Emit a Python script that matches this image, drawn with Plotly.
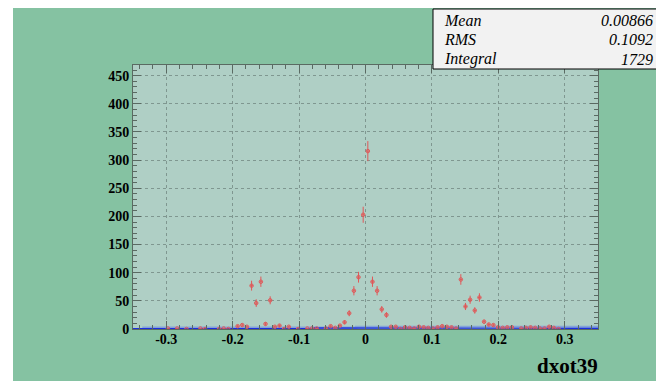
import math
import plotly.graph_objects as go

# ---------------- data ----------------
n_bins = 100
x_min, x_max = -0.35, 0.35
bin_width = (x_max - x_min) / n_bins
bin_edges = [x_min + bin_width * i for i in range(n_bins + 1)]
bin_centers = [x_min + bin_width * (i + 0.5) for i in range(n_bins)]

# red histogram (None = empty bin, not drawn)
red_counts = (
    [None] * 7 + [1, None, 1, None, 0, None, None, 1, 0, None, None, 0, 1, 0, None,
                  5, 7, 4, 77, 46, 84, 9, 51, 4, 6, 0, 4, None, 0, None, 1, 1, 1, None, 1,
                  5, 2, 6, 12, 28, 68, 92, 203, 316, 84, 68, 35, 25, 4, 4, 0, 3, 2, 1,
                  4, 3, 2, 1, 3, 5, 4, 3, 1, 88, 40, 52, 33, 56, 13, 8, 7, 3, 2, 3, 3,
                  None, 1, 2, 3, 2, 1, 1, 4, 2, 0] + [None] * 8
)

# blue histograms (low background)
blue_line = [0.5] * 39 + [2.0] * 9 + [1.0] * 52
blue_band = [None] * 2 + [2.0] * 46 + [3.5] * 52

x_tick_vals = [-0.3, -0.2, -0.1, 0.0, 0.1, 0.2, 0.3]
x_tick_text = ["-0.3", "-0.2", "-0.1", "0", "0.1", "0.2", "0.3"]
y_tick_vals = [0, 50, 100, 150, 200, 250, 300, 350, 400, 450]
y_tick_text = [str(v) for v in y_tick_vals]

stat_names = ["Mean", "RMS", "Integral"]
stat_values = ["0.00866", "0.1092", "1729"]
hist_title = "dxot39"

# ---------------- layout geometry (figure pixels; page is offset by 8px body margin) ----------------
W, H = 656, 373
L, R, T, B = 125, 590, 57, 321


def xp(px):
    return (px - L) / (R - L)


def yp(py):
    return (B - py) / (B - T)


outer_green = "#85C2A2"
plot_bg = "#AFCFC5"
red = "#E05858"
frame = "#5A6A62"
grid = "#7F9790"
serif = "Liberation Serif"

fig = go.Figure()


def step_xy(values):
    xs, ys = [], []
    for i, v in enumerate(values):
        if v is None:
            xs.append(None)
            ys.append(None)
            continue
        xs += [bin_edges[i], bin_edges[i + 1]]
        ys += [v, v]
    return xs, ys


bx, by = step_xy(blue_band)
fig.add_trace(go.Scatter(x=bx, y=by, mode="lines",
                         line=dict(color="rgba(90,120,235,0.5)", width=2.5),
                         hoverinfo="skip", showlegend=False))
lx, ly = step_xy(blue_line)
fig.add_trace(go.Scatter(x=lx, y=ly, mode="lines",
                         line=dict(color="#1A2FE0", width=1.2),
                         hoverinfo="skip", showlegend=False))

pts_x = [c for c, v in zip(bin_centers, red_counts) if v is not None]
pts_y = [v for v in red_counts if v is not None]
pts_err = [math.sqrt(v) for v in pts_y]
fig.add_trace(go.Scatter(
    x=pts_x, y=pts_y, mode="markers",
    marker=dict(symbol="circle-open", size=3.5, color=red, line=dict(width=1, color=red)),
    error_y=dict(type="data", array=pts_err, color=red, thickness=1, width=0),
    error_x=dict(type="constant", value=bin_width * 0.3, color=red, thickness=1, width=0),
    showlegend=False,
))

axis_common = dict(
    showline=True, linecolor=frame, linewidth=1, mirror="ticks",
    ticks="inside", tickcolor=frame, tickwidth=1,
    showgrid=True, gridcolor=grid, griddash="3px,3px", gridwidth=1,
    zeroline=False,
    tickfont=dict(family=serif, size=14, color="black", weight="bold"),
)

fig.update_xaxes(
    range=[x_min, x_max], tickmode="array", tickvals=x_tick_vals, ticktext=x_tick_text,
    ticklen=8, ticklabelstandoff=-3,
    minor=dict(ticks="inside", ticklen=4, dtick=0.02, tick0=0, tickcolor=frame, showgrid=False),
    **axis_common,
)
fig.update_yaxes(
    range=[0, 469], tickmode="array", tickvals=y_tick_vals, ticktext=y_tick_text,
    ticklen=8,
    minor=dict(ticks="inside", ticklen=4, dtick=10, tick0=0, tickcolor=frame, showgrid=False),
    **axis_common,
)

shapes = [
    # white page strip on the left
    dict(type="rect", xref="paper", yref="paper", x0=xp(-5), x1=xp(5), y0=yp(H + 5), y1=yp(-5),
         fillcolor="white", line=dict(width=0), layer="above"),
    # stats box
    dict(type="rect", xref="paper", yref="paper", x0=xp(425), x1=xp(654), y0=yp(61), y1=yp(1),
         fillcolor="#F2F2F2", line=dict(color="black", width=1), layer="above"),
]

annotations = []
row_y = [13, 32, 51]
for name, val, ry in zip(stat_names, stat_values, row_y):
    annotations.append(dict(xref="paper", yref="paper", x=xp(434), y=yp(ry), text=f"<i>{name}</i>",
                            showarrow=False, xanchor="left", yanchor="middle",
                            font=dict(family=serif, size=16, color="black")))
    annotations.append(dict(xref="paper", yref="paper", x=xp(647), y=yp(ry), text=f"<i>{val}</i>",
                            showarrow=False, xanchor="right", yanchor="middle",
                            font=dict(family=serif, size=16, color="black")))
annotations.append(dict(xref="paper", yref="paper", x=xp(592), y=yp(358), text=f"<b>{hist_title}</b>",
                        showarrow=False, xanchor="right", yanchor="middle",
                        font=dict(family=serif, size=21, color="black")))

fig.update_layout(
    width=W, height=H,
    margin=dict(l=L, r=W - R, t=T, b=H - B),
    paper_bgcolor=outer_green, plot_bgcolor=plot_bg,
    shapes=shapes, annotations=annotations,
    showlegend=False,
)

fig.write_html("out.html", config={"displayModeBar": False})
